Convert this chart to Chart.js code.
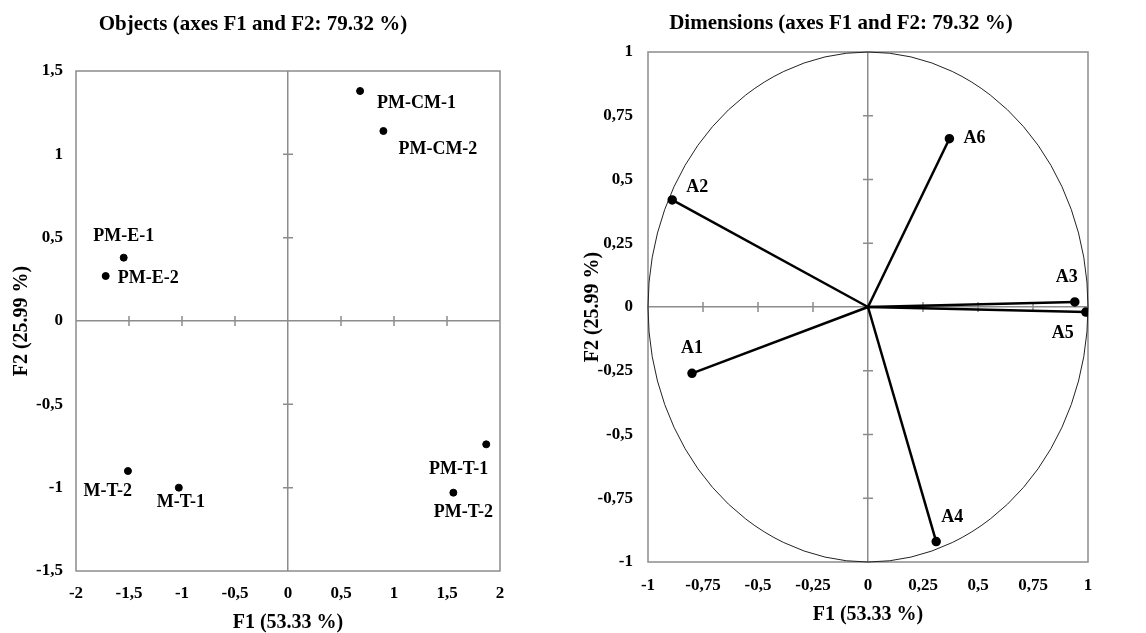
<!DOCTYPE html>
<html>
<head>
<meta charset="utf-8">
<script src="https://cdn.jsdelivr.net/npm/chart.js@4"></script>
<style>
  html, body { margin: 0; padding: 0; background: #fff; }
  #cadre { position: relative; width: 1146px; height: 633px; }
  .panneau { position: absolute; top: 0; width: 573px; height: 633px; }
  #gauche { left: 0; }
  #droite { left: 573px; }
</style>
</head>
<body>
<div id="cadre">
  <div class="panneau" id="gauche"><canvas id="objets" width="573" height="633"></canvas></div>
  <div class="panneau" id="droite"><canvas id="dimensions" width="573" height="633"></canvas></div>
</div>
<script>
"use strict";

// --- données ---
const objetsNoms = ["PM-CM-1", "PM-CM-2", "PM-E-1", "PM-E-2", "M-T-2", "M-T-1", "PM-T-1", "PM-T-2"];
const objetsF1 = [0.68, 0.90, -1.55, -1.72, -1.51, -1.03, 1.87, 1.56];
const objetsF2 = [1.38, 1.14, 0.38, 0.27, -0.90, -1.00, -0.74, -1.03];

const dimNoms = ["A1", "A2", "A3", "A4", "A5", "A6"];
const dimF1 = [-0.80, -0.89, 0.94, 0.31, 0.99, 0.37];
const dimF2 = [-0.26, 0.42, 0.02, -0.92, -0.02, 0.66];

const ticksObjetsX = [-2, -1.5, -1, -0.5, 0, 0.5, 1, 1.5, 2];
const ticksObjetsY = [-1.5, -1, -0.5, 0, 0.5, 1, 1.5];
const ticksDimX = [-1, -0.75, -0.5, -0.25, 0, 0.25, 0.5, 0.75, 1];
const ticksDimY = [-1, -0.75, -0.5, -0.25, 0, 0.25, 0.5, 0.75, 1];

// décalages des étiquettes (pixels) : [dx, dy, alignement]
const decalObjets = [[17, 12, "left"], [15, 18, "left"], [0, -21, "center"], [12, 2, "left"],
                     [4, 20, "right"], [2, 15, "center"], [2, 25, "right"], [10, 20, "center"]];
const decalDim = [[0, -25, "center"], [25, -13, "center"], [-8, -25, "center"],
                  [16, -24, "center"], [-23, 21, "center"], [25, 0, "center"]];

const police = "'Liberation Serif', 'Times New Roman', serif";
const gris = "#8c8c8c";

function virgule(v) {
  return String(v).replace(".", ",");
}

// cadre gris, petites graduations sur les axes centraux, cercle des corrélations
const fond = {
  id: "fond",
  beforeDatasetsDraw(chart, args, opts) {
    const ctx = chart.ctx;
    const a = chart.chartArea;
    const xs = chart.scales.x, ys = chart.scales.y;
    const x0 = xs.getPixelForValue(0), y0 = ys.getPixelForValue(0);
    ctx.save();
    ctx.strokeStyle = gris;
    ctx.lineWidth = 1.5;
    ctx.strokeRect(a.left, a.top, a.right - a.left, a.bottom - a.top);
    ctx.beginPath();
    xs.ticks.forEach(t => {
      if (t.value === 0 || t.value === xs.min || t.value === xs.max) return;
      const px = xs.getPixelForValue(t.value);
      ctx.moveTo(px, y0 - 5);
      ctx.lineTo(px, y0 + 5);
    });
    ys.ticks.forEach(t => {
      if (t.value === 0 || t.value === ys.min || t.value === ys.max) return;
      const py = ys.getPixelForValue(t.value);
      ctx.moveTo(x0 - 5, py);
      ctx.lineTo(x0 + 5, py);
    });
    ctx.stroke();
    if (opts.cercle) {
      const rx = xs.getPixelForValue(1) - x0;
      const ry = y0 - ys.getPixelForValue(1);
      ctx.strokeStyle = "#222";
      ctx.lineWidth = 1;
      ctx.beginPath();
      ctx.ellipse(x0, y0, rx, ry, 0, 0, Math.PI * 2);
      ctx.stroke();
    }
    ctx.restore();
  }
};

// noms des points
const etiquettes = {
  id: "etiquettes",
  afterDatasetsDraw(chart, args, opts) {
    const ctx = chart.ctx;
    ctx.save();
    ctx.fillStyle = "#000";
    ctx.font = "bold 18px " + police;
    ctx.textBaseline = "middle";
    opts.noms.forEach((nom, i) => {
      let el;
      if (opts.dernier) {
        const pts = chart.getDatasetMeta(i).data;
        el = pts[pts.length - 1];
      } else {
        el = chart.getDatasetMeta(0).data[i];
      }
      const d = opts.decal[i];
      ctx.textAlign = d[2];
      ctx.fillText(nom, el.x + d[0], el.y + d[1]);
    });
    ctx.restore();
  }
};

function echelle(min, max, valeurs, titre, opt) {
  return {
    type: "linear",
    min: min,
    max: max,
    afterBuildTicks: s => { s.ticks = valeurs.map(v => ({ value: v })); },
    afterFit: opt.fit,
    grid: {
      drawTicks: false,
      lineWidth: 1.5,
      color: c => (c.tick && c.tick.value === 0 ? gris : "rgba(0,0,0,0)")
    },
    border: { display: false },
    ticks: {
      color: "#000",
      padding: opt.pad,
      font: { family: police, size: 17, weight: "bold" },
      callback: v => virgule(v)
    },
    title: {
      display: true,
      text: titre,
      color: "#000",
      font: { family: police, size: 20, weight: "bold", lineHeight: 1 },
      padding: opt.titrePad
    }
  };
}

Chart.defaults.animation = false;

let graphObjets = new Chart(document.getElementById("objets"), {
  type: "scatter",
  data: {
    datasets: [{
      data: objetsF1.map((x, i) => ({ x: x, y: objetsF2[i] })),
      backgroundColor: "#000",
      borderColor: "#000",
      pointRadius: 3.5,
      pointHoverRadius: 3.5
    }]
  },
  options: {
    responsive: false,
    layout: { padding: { left: 6, right: 73, top: 0, bottom: 0 } },
    plugins: {
      legend: { display: false },
      tooltip: { enabled: false },
      title: {
        display: true,
        text: "Objects (axes F1 and F2: 79.32 %)",
        color: "#000",
        font: { family: police, size: 21, weight: "bold", lineHeight: 1.2 },
        padding: { top: 12.4, bottom: 33.4 }
      },
      fond: { cercle: false },
      etiquettes: { noms: objetsNoms, decal: decalObjets, dernier: false }
    },
    scales: {
      x: echelle(-2, 2, ticksObjetsX, "F1 (53.33 %)",
        { pad: 12, titrePad: { top: 0, bottom: 0 }, fit: s => { s.height = 62; } }),
      y: echelle(-1.5, 1.5, ticksObjetsY, "F2 (25.99 %)",
        { pad: 13, titrePad: { top: 6, bottom: 0 }, fit: s => { s.width = 70; } })
    }
  },
  plugins: [fond, etiquettes]
});

let graphDim = new Chart(document.getElementById("dimensions"), {
  type: "scatter",
  data: {
    datasets: dimNoms.map((nom, i) => ({
      label: nom,
      data: [{ x: 0, y: 0 }, { x: dimF1[i], y: dimF2[i] }],
      showLine: true,
      borderColor: "#000",
      backgroundColor: "#000",
      borderWidth: 2.5,
      pointRadius: c => (c.dataIndex === 0 ? 0 : 3.5),
      pointHoverRadius: c => (c.dataIndex === 0 ? 0 : 3.5)
    }))
  },
  options: {
    responsive: false,
    layout: { padding: { left: 21, right: 58, top: 0, bottom: 0 } },
    plugins: {
      legend: { display: false },
      tooltip: { enabled: false },
      title: {
        display: true,
        text: "Dimensions (axes F1 and F2: 79.32 %)",
        color: "#000",
        font: { family: police, size: 21, weight: "bold", lineHeight: 1.2 },
        padding: { top: 11.4, bottom: 15.4 }
      },
      fond: { cercle: true },
      etiquettes: { noms: dimNoms, decal: decalDim, dernier: true }
    },
    scales: {
      x: echelle(-1, 1, ticksDimX, "F1 (53.33 %)",
        { pad: 13, titrePad: { top: 0, bottom: 8 }, fit: s => { s.height = 71; } }),
      y: echelle(-1, 1, ticksDimY, "F2 (25.99 %)",
        { pad: 15, titrePad: { top: -11, bottom: 0 }, fit: s => { s.width = 54; } })
    }
  },
  plugins: [fond, etiquettes]
});
</script>
</body>
</html>
